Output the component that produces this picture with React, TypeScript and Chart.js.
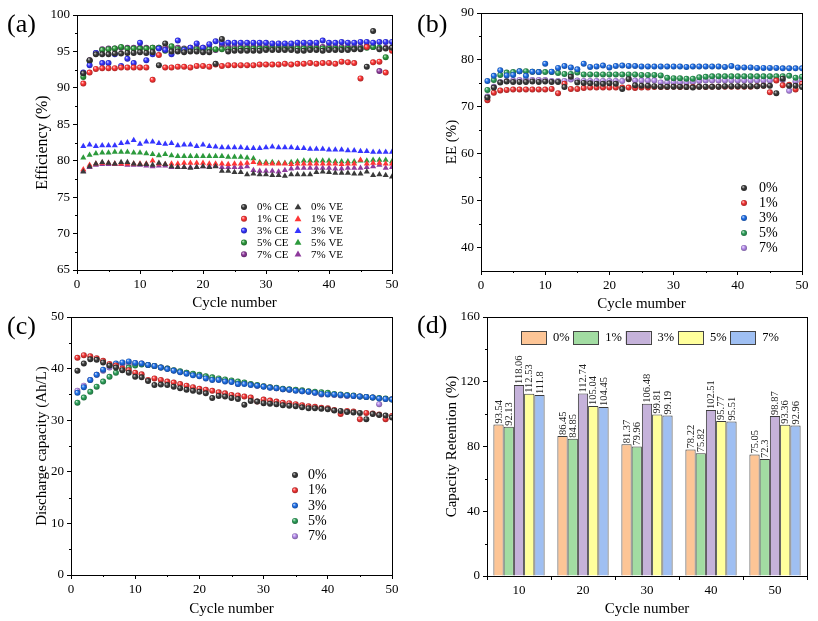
import React, { useEffect, useRef } from "react";
import { Chart, registerables } from "chart.js";

Chart.register(...registerables);

const FONT = "'Liberation Serif', 'Times New Roman', serif";
const CW = 818;
const CH = 621;

// ---------- DATA ----------
const cycles = [
  1, 2, 3, 4, 5, 6, 7, 8, 9, 10, 11, 12, 13, 14, 15, 16, 17, 18, 19, 20,
  21, 22, 23, 24, 25, 26, 27, 28, 29, 30, 31, 32, 33, 34, 35, 36, 37, 38, 39, 40,
  41, 42, 43, 44, 45, 46, 47, 48, 49, 50,
];

// (a) Coulombic efficiency (%)
const ce0 = [
  92.0, 93.8, 94.6, 94.6, 94.6, 94.7, 94.7, 94.8, 94.8, 94.9,
  94.8, 94.9, 93.1, 96.1, 95.0, 95.0, 94.9, 95.0, 95.0, 94.9,
  94.9, 93.3, 96.7, 95.0, 95.1, 95.1, 95.1, 95.1, 95.1, 95.2,
  95.2, 95.2, 95.2, 95.2, 95.1, 95.1, 95.2, 95.2, 95.1, 95.2,
  95.2, 95.2, 95.2, 95.3, 95.3, 92.9, 97.8, 95.3, 95.4, 95.5,
];
const ce1 = [
  90.6, 92.1, 92.6, 92.7, 92.7, 92.7, 92.8, 92.8, 92.8, 92.8,
  92.8, 91.1, 94.5, 92.8, 92.8, 92.9, 92.9, 92.8, 93.0, 93.0,
  92.9, 93.2, 93.0, 93.1, 93.1, 93.1, 93.1, 93.1, 93.2, 93.2,
  93.2, 93.2, 93.3, 93.2, 93.3, 93.3, 93.4, 93.3, 93.4, 93.4,
  93.3, 93.6, 93.5, 93.4, 91.3, 95.6, 93.5, 93.6, 92.1, 95.1,
];
const ce3 = [
  92.1, 93.1, 94.8, 93.4, 93.4, 94.6, 93.0, 94.0, 93.4, 96.2,
  93.8, 94.6, 95.4, 95.2, 94.6, 96.5, 95.2, 95.5, 96.1, 95.5,
  96.0, 96.4, 96.2, 96.2, 96.2, 96.2, 96.2, 96.2, 96.2, 96.2,
  96.1, 96.1, 96.1, 96.1, 96.2, 96.2, 96.2, 96.2, 96.5, 96.2,
  96.2, 96.3, 96.2, 96.2, 96.3, 96.3, 96.2, 96.3, 96.3, 96.3,
];
const ce5 = [
  91.5, 93.7, 94.7, 95.2, 95.3, 95.4, 95.6, 95.4, 95.4, 95.4,
  95.4, 95.5, 95.5, 95.1, 95.7, 95.3, 95.3, 95.3, 95.3, 95.3,
  95.3, 95.3, 95.3, 95.3, 95.3, 95.4, 95.4, 95.4, 95.4, 95.4,
  95.4, 95.4, 95.4, 95.4, 95.4, 95.4, 95.4, 95.4, 95.4, 95.4,
  95.4, 95.4, 95.4, 95.4, 95.4, 95.5, 95.6, 95.5, 94.2, 95.4,
];
const ce7 = [
  92.0, 93.8, 94.8, 95.3, 95.4, 95.4, 95.5, 95.5, 95.5, 95.5,
  95.5, 95.5, 95.5, 95.5, 95.5, 95.5, 95.4, 95.5, 95.5, 95.5,
  95.5, 95.2, 95.8, 95.6, 95.6, 95.6, 95.6, 95.6, 95.6, 95.6,
  95.6, 95.6, 95.6, 95.6, 95.6, 95.6, 95.6, 95.6, 95.6, 95.6,
  95.6, 95.6, 95.6, 95.6, 95.6, 95.7, 95.6, 92.3, 95.5, 95.5,
];
// (a) Voltage efficiency (%)
const ve0 = [
  78.5, 79.2, 79.6, 79.8, 79.7, 79.6, 79.8, 79.8, 79.6, 79.5,
  79.5, 79.4, 79.7, 79.5, 79.2, 79.1, 79.1, 79.0, 79.1, 79.2,
  79.1, 79.2, 78.6, 78.6, 78.4, 78.4, 78.1, 78.2, 78.1, 78.1,
  78.0, 78.0, 77.9, 78.1, 78.1, 78.1, 78.1, 78.4, 78.5, 78.4,
  78.3, 78.3, 78.3, 78.2, 78.2, 78.5, 78.0, 78.1, 78.0, 77.8,
];
const ve1 = [
  78.8, 79.4, 79.6, 79.7, 79.7, 79.6, 79.6, 79.6, 79.6, 79.6,
  79.6, 80.0, 79.6, 79.5, 79.6, 79.6, 79.7, 79.7, 79.7, 79.7,
  79.6, 79.6, 79.6, 79.5, 79.6, 79.6, 79.7, 79.8, 79.6, 79.6,
  79.6, 79.6, 79.6, 79.5, 79.6, 79.6, 79.6, 79.6, 79.6, 79.6,
  79.6, 79.5, 79.6, 79.6, 80.1, 79.6, 79.7, 79.7, 79.6, 79.6,
];
const ve3 = [
  82.0, 82.2, 82.0, 82.1, 82.1, 82.1, 82.4, 82.5, 82.8, 82.3,
  82.6, 82.6, 82.4, 82.3, 82.4, 82.1, 82.2, 82.2, 82.0, 82.2,
  82.0, 81.9, 81.8, 81.8, 81.8, 81.8, 81.7, 81.7, 81.7, 81.8,
  81.9, 81.8, 81.8, 81.8, 81.7, 81.7, 81.6, 81.6, 81.6, 81.5,
  81.5, 81.5, 81.4, 81.4, 81.3, 81.3, 81.2, 81.2, 81.2, 81.2,
];
const ve5 = [
  80.4, 80.8, 81.0, 81.1, 81.1, 81.2, 81.2, 81.2, 81.1, 81.1,
  81.0, 80.9, 80.7, 80.9, 80.7, 80.6, 80.6, 80.6, 80.6, 80.6,
  80.6, 80.6, 80.6, 80.5, 80.5, 80.5, 80.4, 80.3, 79.8, 79.8,
  79.8, 79.7, 79.7, 79.8, 79.9, 80.0, 80.0, 80.0, 80.0, 80.0,
  79.9, 79.9, 79.9, 79.9, 80.0, 80.0, 80.1, 80.1, 80.1, 79.9,
];
const ve7 = [
  78.6, 79.1, 79.4, 79.5, 79.5, 79.5, 79.5, 79.4, 79.4, 79.4,
  79.3, 79.2, 79.3, 79.3, 79.1, 79.1, 79.1, 79.1, 79.1, 79.2,
  79.2, 79.3, 79.1, 79.1, 79.1, 79.1, 79.2, 78.7, 78.6, 78.6,
  78.6, 78.5, 78.7, 78.9, 79.0, 79.0, 79.0, 79.0, 79.0, 79.0,
  78.9, 78.9, 79.0, 79.0, 79.0, 79.1, 79.2, 79.4, 79.0, 79.1,
];

// (b) Energy efficiency (%)
const ee0 = [
  72.0, 74.1, 75.2, 75.4, 75.3, 75.3, 75.3, 75.4, 75.3, 75.4,
  75.3, 75.3, 74.2, 76.4, 75.2, 75.1, 75.0, 74.9, 74.9, 75.0,
  74.9, 73.8, 75.9, 74.6, 74.5, 74.5, 74.4, 74.3, 74.3, 74.3,
  74.3, 74.2, 74.1, 74.3, 74.3, 74.3, 74.3, 74.4, 74.4, 74.4,
  74.4, 74.4, 74.4, 74.5, 74.5, 72.9, 76.0, 74.5, 74.5, 74.2,
];
const ee1 = [
  71.4, 73.0, 73.5, 73.6, 73.7, 73.7, 73.7, 73.7, 73.7, 73.7,
  73.8, 72.9, 74.9, 73.8, 73.8, 74.0, 74.1, 74.1, 74.1, 74.1,
  74.1, 74.1, 74.1, 74.0, 74.1, 74.1, 74.2, 74.2, 74.2, 74.3,
  74.2, 74.2, 74.2, 74.3, 74.2, 74.3, 74.3, 74.3, 74.3, 74.3,
  74.3, 74.3, 74.4, 74.5, 73.1, 75.6, 74.6, 74.7, 73.7, 74.9,
];
const ee3 = [
  75.5, 76.6, 77.8, 76.7, 76.8, 77.6, 76.6, 77.5, 77.4, 79.2,
  77.5, 78.3, 78.7, 78.4, 78.0, 79.2, 78.5, 78.6, 78.8, 78.4,
  78.7, 78.8, 78.7, 78.7, 78.6, 78.6, 78.6, 78.6, 78.6, 78.6,
  78.6, 78.5, 78.6, 78.6, 78.6, 78.6, 78.6, 78.5, 78.7, 78.4,
  78.4, 78.4, 78.3, 78.3, 78.3, 78.3, 78.2, 78.2, 78.2, 78.2,
];
const ee5 = [
  73.6, 75.7, 76.8, 77.3, 77.4, 77.6, 77.6, 77.5, 77.4, 77.4,
  77.4, 77.2, 77.0, 77.0, 77.3, 76.9, 76.9, 76.9, 76.9, 76.9,
  76.9, 76.9, 76.9, 76.9, 76.8, 76.8, 76.8, 76.7, 76.2, 76.1,
  76.1, 76.0, 76.0, 76.3, 76.4, 76.5, 76.5, 76.5, 76.5, 76.5,
  76.5, 76.5, 76.5, 76.5, 76.5, 76.5, 76.5, 76.6, 76.2, 76.4,
];
const ee7 = [
  72.2, 74.3, 75.3, 75.5, 75.6, 75.7, 75.7, 75.7, 75.7, 75.7,
  75.5, 75.5, 75.5, 75.8, 75.6, 75.5, 75.5, 75.5, 75.5, 75.5,
  75.5, 75.5, 76.0, 75.6, 75.6, 75.6, 75.6, 75.2, 75.2, 75.2,
  75.2, 75.2, 75.3, 75.5, 75.6, 75.6, 75.6, 75.6, 75.6, 75.6,
  75.6, 75.6, 75.6, 75.6, 75.6, 75.7, 75.7, 73.4, 75.4, 75.7,
];

// (c) Discharge capacity (Ah/L)
const dc0 = [
  39.6, 41.0, 41.8, 41.7, 41.2, 40.6, 40.2, 39.7, 39.2, 38.4,
  38.3, 37.6, 36.8, 36.9, 36.8, 36.5, 36.2, 35.9, 35.7, 35.5,
  35.2, 34.3, 34.7, 34.6, 34.3, 34.1, 33.0, 33.7, 33.6, 33.3,
  33.2, 33.1, 32.9, 32.8, 32.7, 32.5, 32.3, 32.3, 32.2, 32.1,
  31.9, 31.8, 31.6, 31.5, 31.4, 30.2, 31.2, 31.0, 30.9, 30.5,
];
const dc1 = [
  42.1, 42.6, 42.4, 42.0, 41.5, 40.9, 40.6, 40.0, 39.7, 39.2,
  38.9, 37.8, 38.1, 37.8, 37.5, 37.3, 37.0, 36.7, 36.4, 36.1,
  35.9, 35.7, 35.4, 35.2, 34.9, 34.8, 34.6, 34.4, 33.6, 34.0,
  33.8, 33.6, 33.4, 33.3, 33.1, 32.9, 32.7, 32.6, 32.4, 32.3,
  32.0, 31.2, 31.8, 31.7, 30.2, 31.4, 31.3, 31.1, 30.2, 30.8,
];
const dc3 = [
  35.3, 36.4, 37.8, 38.8, 39.8, 40.6, 41.0, 41.2, 41.4, 41.1,
  41.0, 40.7, 40.5, 40.2, 39.9, 39.6, 39.3, 39.0, 38.7, 38.5,
  38.1, 37.8, 37.8, 37.5, 37.4, 37.0, 37.0, 36.8, 36.7, 36.5,
  36.3, 36.2, 36.0, 35.9, 35.7, 35.6, 35.5, 35.3, 35.1, 35.0,
  35.0, 34.9, 34.8, 34.7, 34.6, 34.5, 34.4, 34.2, 34.1, 34.0,
];
const dc5 = [
  33.4, 34.4, 35.5, 36.5, 37.5, 38.4, 39.2, 39.8, 40.2, 40.6,
  40.8, 40.7, 40.5, 40.2, 40.0, 39.7, 39.5, 39.2, 39.0, 38.8,
  38.5, 38.3, 38.1, 37.9, 37.7, 37.5, 37.3, 37.0, 36.8, 36.6,
  36.4, 36.3, 36.1, 36.0, 35.9, 35.8, 35.6, 35.5, 35.4, 35.3,
  35.1, 35.0, 34.9, 34.8, 34.6, 34.5, 34.4, 34.3, 34.2, 34.0,
];
const dc7 = [
  35.7, 36.7, 37.8, 38.8, 39.6, 40.2, 40.5, 40.9, 40.9, 41.1,
  41.0, 40.7, 40.5, 40.2, 40.0, 39.7, 39.4, 39.2, 38.9, 38.6,
  38.4, 38.1, 37.9, 37.7, 37.5, 37.0, 37.2, 36.9, 36.7, 36.6,
  36.4, 36.2, 36.0, 35.9, 35.8, 35.6, 35.5, 35.3, 35.0, 35.1,
  34.9, 34.8, 34.7, 34.7, 34.6, 34.5, 34.4, 33.1, 34.1, 34.1,
];

// (d) Capacity retention (%)
const crCycles = ["10", "20", "30", "40", "50"];
const cr0 = [93.54, 86.45, 81.37, 78.22, 75.05];
const cr1 = [92.13, 84.85, 79.96, 75.82, 72.3];
const cr3 = [118.06, 112.74, 106.48, 102.51, 98.87];
const cr5 = [112.53, 105.04, 99.81, 95.77, 93.36];
const cr7 = [111.8, 104.45, 99.19, 95.51, 92.96];

const groups = ["0%", "1%", "3%", "5%", "7%"];

// ---------- STYLES ----------
const colorsA = ["#3a3a3a", "#ff3535", "#3535ff", "#2c9a3c", "#8e3a9c"];
const colorsBC = ["#3a3a3a", "#f23535", "#1f6fe8", "#2ea05a", "#b48aea"];
const colorsD = ["#fdc596", "#a2dca2", "#c5b2da", "#ffff9c", "#9fbff2"];

function shade(hex: string, f: number) {
  const n = parseInt(hex.slice(1), 16);
  let r = (n >> 16) & 255, g = (n >> 8) & 255, b = n & 255;
  if (f >= 0) {
    r = r + (255 - r) * f; g = g + (255 - g) * f; b = b + (255 - b) * f;
  } else {
    r = r * (1 + f); g = g * (1 + f); b = b * (1 + f);
  }
  return `rgb(${Math.round(r)},${Math.round(g)},${Math.round(b)})`;
}

function ball(base: string, r: number) {
  return (c: any) => {
    const chart = c.chart;
    const p = c.parsed;
    if (c.type !== "data" || !p || !chart.scales.x || !chart.scales.y) return base;
    const x = chart.scales.x.getPixelForValue(p.x);
    const y = chart.scales.y.getPixelForValue(p.y);
    if (!isFinite(x) || !isFinite(y)) return base;
    const g = chart.ctx.createRadialGradient(x - r * 0.35, y - r * 0.4, r * 0.05, x, y, r * 1.05);
    g.addColorStop(0, shade(base, 0.75));
    g.addColorStop(0.45, base);
    g.addColorStop(1, shade(base, -0.35));
    return g;
  };
}

// ---------- PLUGINS ----------
const framePlugin = {
  id: "frame",
  afterDraw(chart: any) {
    const { left, top, right, bottom } = chart.chartArea;
    const ctx = chart.ctx;
    ctx.save();
    ctx.strokeStyle = "#000";
    ctx.lineWidth = 1;
    ctx.strokeRect(Math.round(left) + 0.5, Math.round(top) + 0.5, Math.round(right - left), Math.round(bottom - top));
    ctx.restore();
  },
};

const minorTicksPlugin = {
  id: "minorTicks",
  afterDraw(chart: any, _a: any, o: any) {
    if (!o || !o.axes) return;
    const ctx = chart.ctx;
    ctx.save();
    ctx.strokeStyle = "#000";
    ctx.lineWidth = 1;
    for (const id of o.axes) {
      const s = chart.scales[id];
      if (!s) continue;
      const t = s.ticks;
      for (let i = 0; i < t.length - 1; i++) {
        const v = (t[i].value + t[i + 1].value) / 2;
        const px = Math.round(s.getPixelForValue(v)) + 0.5;
        ctx.beginPath();
        if (s.isHorizontal()) {
          ctx.moveTo(px, s.top);
          ctx.lineTo(px, s.top + o.len);
        } else {
          ctx.moveTo(s.right, px);
          ctx.lineTo(s.right - o.len, px);
        }
        ctx.stroke();
      }
    }
    ctx.restore();
  },
};

const markerLegendPlugin = {
  id: "markerLegend",
  afterDraw(chart: any, _a: any, o: any) {
    if (!o || !o.colors) return;
    const ctx = chart.ctx;
    ctx.save();
    ctx.font = `${o.size}px ${FONT}`;
    ctx.textBaseline = "middle";
    ctx.textAlign = "left";
    chart.data.datasets.forEach((ds: any, i: number) => {
      let x: number, y: number;
      if (o.horizontal) {
        x = o.x + i * o.itemW;
        y = o.y;
      } else {
        const col = Math.floor(i / o.perCol);
        const row = i % o.perCol;
        x = o.x + col * o.colW;
        y = o.y + row * o.rowH;
      }
      const color = o.colors[i % o.colors.length];
      const shape = o.shapes ? o.shapes[i] : "circle";
      if (shape === "box") {
        ctx.fillStyle = color;
        ctx.fillRect(x, y - o.boxH / 2, o.boxW, o.boxH);
        ctx.strokeStyle = "#444";
        ctx.lineWidth = 1;
        ctx.strokeRect(Math.round(x) + 0.5, Math.round(y - o.boxH / 2) + 0.5, o.boxW, o.boxH);
      } else if (shape === "triangle") {
        const r = o.r + 0.6;
        ctx.fillStyle = color;
        ctx.beginPath();
        ctx.moveTo(x, y - r);
        ctx.lineTo(x + r * 0.95, y + r * 0.65);
        ctx.lineTo(x - r * 0.95, y + r * 0.65);
        ctx.closePath();
        ctx.fill();
      } else {
        const g = ctx.createRadialGradient(x - o.r * 0.35, y - o.r * 0.4, o.r * 0.05, x, y, o.r * 1.05);
        g.addColorStop(0, shade(color, 0.75));
        g.addColorStop(0.45, color);
        g.addColorStop(1, shade(color, -0.35));
        ctx.fillStyle = g;
        ctx.beginPath();
        ctx.arc(x, y, o.r, 0, Math.PI * 2);
        ctx.fill();
      }
      ctx.fillStyle = "#000";
      ctx.fillText(ds.label, x + o.textDx, y + 0.5);
    });
    ctx.restore();
  },
};

const barLabelPlugin = {
  id: "barLabels",
  afterDatasetsDraw(chart: any, _a: any, o: any) {
    if (!o || !o.enabled) return;
    const ctx = chart.ctx;
    ctx.save();
    ctx.font = `${o.size}px ${FONT}`;
    ctx.fillStyle = "#222";
    chart.data.datasets.forEach((ds: any, di: number) => {
      const meta = chart.getDatasetMeta(di);
      meta.data.forEach((el: any, j: number) => {
        ctx.save();
        ctx.translate(el.x + 0.5, el.y - 1);
        ctx.rotate(-Math.PI / 2);
        ctx.textAlign = "left";
        ctx.textBaseline = "middle";
        ctx.fillText(String(ds.data[j]), 0, 0);
        ctx.restore();
      });
    });
    ctx.restore();
  },
};

Chart.register(framePlugin, minorTicksPlugin, markerLegendPlugin, barLabelPlugin);

// ---------- HELPERS ----------
type Area = { L: number; T: number; R: number; B: number; yw: number; xh: number };

function padFor(a: Area) {
  return { left: a.L - a.yw, top: a.T, right: CW - a.R, bottom: CH - a.B - a.xh };
}

function axisCommon(title: string, fit: number, isX: boolean, titleSize: number) {
  return {
    ticks: { font: { family: FONT, size: 13 }, color: "#000", padding: 3, maxRotation: 0, autoSkip: false },
    grid: { display: true, drawOnChartArea: false, drawTicks: true, tickLength: 4, tickColor: "#000", tickWidth: 1 },
    border: { display: false },
    title: { display: true, text: title, font: { family: FONT, size: titleSize }, color: "#000", padding: 0 },
    afterFit: (s: any) => {
      if (isX) s.height = fit;
      else s.width = fit;
    },
  };
}

function linAxis(min: number, max: number, step: number, title: string, fit: number, isX: boolean, titleSize: number, keepMultiple?: number) {
  const base: any = axisCommon(title, fit, isX, titleSize);
  base.type = "linear";
  base.min = min;
  base.max = max;
  base.position = isX ? "bottom" : "left";
  base.ticks.stepSize = step;
  if (keepMultiple) {
    base.afterBuildTicks = (s: any) => {
      s.ticks = s.ticks.filter((t: any) => Math.abs(t.value % keepMultiple) < 1e-9);
    };
  }
  return base;
}

function pts(arr: number[]) {
  return cycles.map((c, i) => ({ x: c, y: arr[i] }));
}

function scatterSet(label: string, arr: number[], color: string, shape: string, r: number) {
  return {
    label,
    data: pts(arr),
    pointStyle: shape,
    pointRadius: r,
    pointHoverRadius: r,
    pointBorderWidth: 0,
    borderWidth: 0,
    backgroundColor: shape === "circle" ? ball(color, r) : color,
    pointBackgroundColor: shape === "circle" ? ball(color, r) : color,
    borderColor: color,
    showLine: false,
  };
}

// ---------- CHART CONFIGS ----------
function configA(): any {
  const area: Area = { L: 77, T: 15, R: 392, B: 270, yw: 44, xh: 42 };
  const ceSets = [ce0, ce1, ce3, ce5, ce7].map((a, i) => scatterSet(`${groups[i]} CE`, a, colorsA[i], "circle", 3));
  const veSets = [ve0, ve1, ve3, ve5, ve7].map((a, i) => scatterSet(`${groups[i]} VE`, a, colorsA[i], "triangle", 3.5));
  return {
    type: "scatter",
    data: { datasets: [...ceSets, ...veSets] },
    options: {
      responsive: false,
      animation: false,
      devicePixelRatio: 1,
      layout: { padding: padFor(area) },
      scales: {
        x: linAxis(0, 50, 10, "Cycle number", area.xh, true, 15),
        y: linAxis(65, 100, 5, "Efficiency (%)", area.yw, false, 16),
      },
      plugins: {
        legend: { display: false },
        tooltip: { enabled: false },
        minorTicks: { axes: ["x", "y"], len: 2 },
        markerLegend: {
          colors: [...colorsA, ...colorsA],
          shapes: ["circle", "circle", "circle", "circle", "circle", "triangle", "triangle", "triangle", "triangle", "triangle"],
          x: 244, y: 207, perCol: 5, rowH: 11.8, colW: 54, textDx: 13, size: 11, r: 3,
        },
      },
    },
  };
}

function configB(): any {
  const area: Area = { L: 481, T: 13, R: 802, B: 271, yw: 38, xh: 42 };
  const sets = [ee0, ee1, ee3, ee5, ee7].map((a, i) => scatterSet(groups[i], a, colorsBC[i], "circle", 3));
  return {
    type: "scatter",
    data: { datasets: sets },
    options: {
      responsive: false,
      animation: false,
      devicePixelRatio: 1,
      layout: { padding: padFor(area) },
      scales: {
        x: linAxis(0, 50, 10, "Cycle mumber", area.xh, true, 15),
        y: linAxis(35, 90, 10, "EE (%)", area.yw, false, 15, 10),
      },
      plugins: {
        legend: { display: false },
        tooltip: { enabled: false },
        minorTicks: { axes: ["x", "y"], len: 2 },
        markerLegend: {
          colors: colorsBC, x: 744, y: 188, perCol: 5, rowH: 15, colW: 0, textDx: 15, size: 14, r: 3,
        },
      },
    },
  };
}

function configC(): any {
  const area: Area = { L: 71, T: 317, R: 392, B: 575, yw: 38, xh: 43 };
  const sets = [dc0, dc1, dc3, dc5, dc7].map((a, i) => scatterSet(groups[i], a, colorsBC[i], "circle", 3));
  return {
    type: "scatter",
    data: { datasets: sets },
    options: {
      responsive: false,
      animation: false,
      devicePixelRatio: 1,
      layout: { padding: padFor(area) },
      scales: {
        x: linAxis(0, 50, 10, "Cycle number", area.xh, true, 15),
        y: linAxis(0, 50, 10, "Discharge capacity (Ah/L)", area.yw, false, 15),
      },
      plugins: {
        legend: { display: false },
        tooltip: { enabled: false },
        minorTicks: { axes: ["x", "y"], len: 2 },
        markerLegend: {
          colors: colorsBC, x: 295, y: 475, perCol: 5, rowH: 15.3, colW: 0, textDx: 13, size: 14, r: 3,
        },
      },
    },
  };
}

function configD(): any {
  const area: Area = { L: 487, T: 317, R: 807, B: 576, yw: 44, xh: 42 };
  const sets = [cr0, cr1, cr3, cr5, cr7].map((a, i) => ({
    label: groups[i],
    data: a,
    backgroundColor: colorsD[i],
    borderColor: "#3c3c3c",
    borderWidth: 1,
    categoryPercentage: 0.8,
    barPercentage: 1.0,
  }));
  const x: any = axisCommon("Cycle number", area.xh, true, 15);
  x.type = "category";
  x.position = "bottom";
  const y = linAxis(0, 160, 40, "Capacity Retention (%)", area.yw, false, 15);
  return {
    type: "bar",
    data: { labels: crCycles, datasets: sets },
    options: {
      responsive: false,
      animation: false,
      devicePixelRatio: 1,
      layout: { padding: padFor(area) },
      scales: { x, y },
      plugins: {
        legend: { display: false },
        tooltip: { enabled: false },
        minorTicks: { axes: ["y"], len: 2 },
        markerLegend: {
          colors: colorsD, shapes: ["box", "box", "box", "box", "box"], horizontal: true,
          x: 521, y: 337.5, itemW: 52.3, textDx: 32, size: 12.5, boxW: 25, boxH: 13,
        },
        barLabels: { enabled: true, size: 10.5 },
      },
    },
  };
}

// ---------- COMPONENTS ----------
function ChartCanvas({ make }: { make: () => any }) {
  const ref = useRef<HTMLCanvasElement | null>(null);
  useEffect(() => {
    if (!ref.current) return;
    const chart = new Chart(ref.current, make());
    return () => chart.destroy();
  }, [make]);
  return (
    <canvas
      ref={ref}
      width={CW}
      height={CH}
      style={{ position: "absolute", left: 0, top: 0, width: CW, height: CH }}
    />
  );
}

const panelLabel: React.CSSProperties = {
  position: "absolute",
  fontFamily: FONT,
  fontSize: 26,
  lineHeight: "26px",
  color: "#000",
};

export default function App() {
  return (
    <div
      style={{
        position: "fixed",
        left: 0,
        top: 0,
        width: CW,
        height: CH,
        background: "#fff",
        overflow: "hidden",
      }}
    >
      <ChartCanvas make={configA} />
      <ChartCanvas make={configB} />
      <ChartCanvas make={configC} />
      <ChartCanvas make={configD} />
      <div style={{ ...panelLabel, left: 7, top: 11 }}>(a)</div>
      <div style={{ ...panelLabel, left: 417, top: 11 }}>(b)</div>
      <div style={{ ...panelLabel, left: 7, top: 313 }}>(c)</div>
      <div style={{ ...panelLabel, left: 417, top: 312 }}>(d)</div>
    </div>
  );
}
